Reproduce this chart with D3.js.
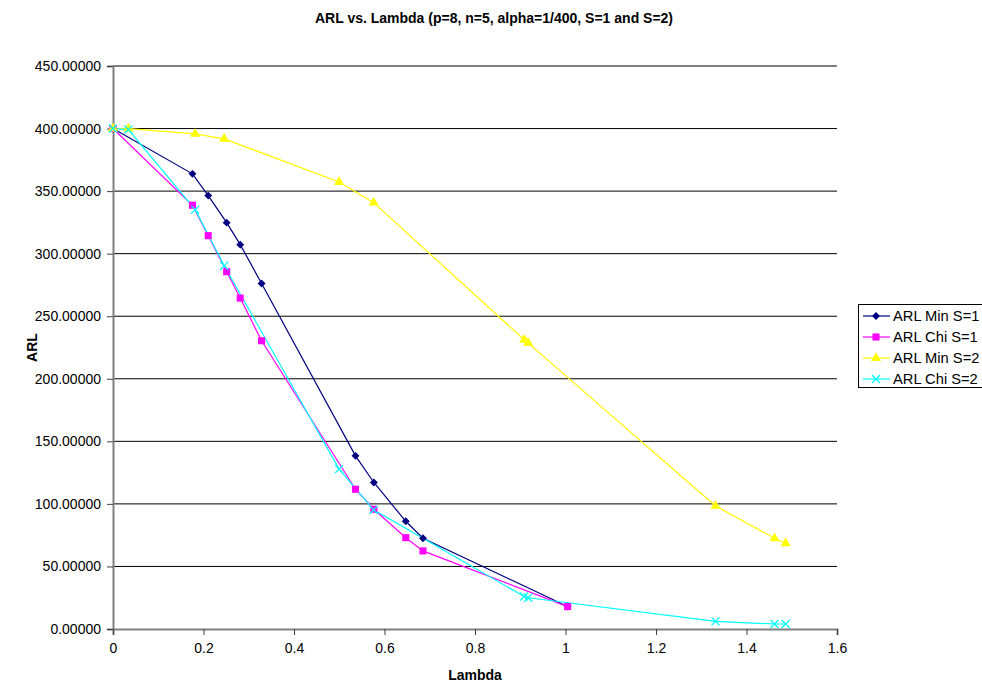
<!DOCTYPE html>
<html>
<head>
<meta charset="utf-8">
<script src="https://cdn.jsdelivr.net/npm/d3@7"></script>
<style>
  html, body { margin: 0; padding: 0; background: #fff; }
  svg { display: block; font-family: Arial, "Liberation Sans", sans-serif; }
</style>
</head>
<body>
<svg id="chart" width="982" height="684"></svg>
<script>
// Lambda values for the S=1 runs and the S=2 runs
const lambdaS1 = [0, 0.1756, 0.2104, 0.2512, 0.2812, 0.3284, 0.5359, 0.5765, 0.6470, 0.6850, 1.0046];
const lambdaS2 = [0, 0.0340, 0.1816, 0.2458, 0.4997, 0.5760, 0.9086, 0.9175, 1.3316, 1.4620, 1.4866];

// ARL for each statistic
const arlMinS1 = [400, 363.8, 346.4, 324.8, 307.2, 276.2, 138.4, 117.1, 86.1, 72.5, 18.0];
const arlChiS1 = [400, 338.7, 314.4, 285.6, 264.5, 230.4, 111.7, 95.7, 73.0, 62.4, 17.9];
const arlMinS2 = [400, 400.0, 395.8, 391.8, 357.3, 340.8, 231.2, 228.5, 98.4, 72.5, 68.5];
const arlChiS2 = [400, 399.2, 335.2, 290.4, 127.8, 95.2, 26.0, 25.0, 6.1, 4.0, 4.0];

const seriesNames = ["ARL Min S=1", "ARL Chi S=1", "ARL Min S=2", "ARL Chi S=2"];
const seriesColors = ["#000080", "#FF00FF", "#FFFF00", "#00FFFF"];
const seriesMarkers = ["diamond", "square", "triangle", "cross"];

const xTicks = [0, 0.2, 0.4, 0.6, 0.8, 1, 1.2, 1.4, 1.6];
const yTicks = [0, 50, 100, 150, 200, 250, 300, 350, 400, 450];

const series = [
  { xs: lambdaS1, ys: arlMinS1 },
  { xs: lambdaS1, ys: arlChiS1 },
  { xs: lambdaS2, ys: arlMinS2 },
  { xs: lambdaS2, ys: arlChiS2 }
].map((s, i) => ({
  name: seriesNames[i],
  color: seriesColors[i],
  marker: seriesMarkers[i],
  points: s.xs.map((x, j) => ({ x, y: s.ys[j] }))
}));

const svg = d3.select("#chart");
svg.append("rect").attr("width", 982).attr("height", 684).attr("fill", "#fff");

const plot = { left: 113, right: 837, top: 66, bottom: 629 };

const x = d3.scaleLinear().domain([0, 1.6]).range([plot.left, plot.right]);
const y = d3.scaleLinear().domain([0, 450]).range([plot.bottom, plot.top]);

// Horizontal gridlines
svg.append("g")
  .selectAll("line")
  .data(yTicks.filter(v => v > 0))
  .join("line")
  .attr("x1", plot.left).attr("x2", plot.right)
  .attr("y1", d => y(d)).attr("y2", d => y(d))
  .attr("stroke", "#000").attr("stroke-width", 1);

// Axes
const yAxis = d3.axisLeft(y).tickValues(yTicks).tickFormat(d3.format(".5f")).tickSize(6).tickPadding(6);
const xAxis = d3.axisBottom(x).tickValues(xTicks).tickFormat(d3.format("~g")).tickSize(6).tickPadding(8);

const gy = svg.append("g").attr("transform", `translate(${plot.left},0)`).call(yAxis);
const gx = svg.append("g").attr("transform", `translate(0,${plot.bottom})`).call(xAxis);

[gx, gy].forEach(g => {
  g.select(".domain").attr("stroke", "#808080").attr("stroke-width", 2);
  g.selectAll(".tick line").attr("stroke", "#404040").attr("stroke-width", 1);
  g.selectAll(".tick text")
    .attr("fill", "#000")
    .style("font-family", "Arial, 'Liberation Sans', sans-serif")
    .style("font-size", "14px");
});

// Series lines
const line = d3.line().x(d => x(d.x)).y(d => y(d.y));

const symbolFor = {
  diamond: d3.symbol().type(d3.symbolDiamond2).size(40),
  square: d3.symbol().type(d3.symbolSquare).size(50),
  triangle: d3.symbol().type(d3.symbolTriangle).size(44),
  cross: d3.symbol().type(d3.symbolX).size(44)
};

function drawMarker(sel, s) {
  const path = sel.append("path").attr("d", symbolFor[s.marker]());
  if (s.marker === "cross") {
    path.attr("fill", "none").attr("stroke", s.color).attr("stroke-width", 1.3);
  } else {
    path.attr("fill", s.color).attr("stroke", "none");
  }
}

const gSeries = svg.append("g");
series.forEach(s => {
  gSeries.append("path")
    .datum(s.points)
    .attr("d", line)
    .attr("fill", "none")
    .attr("stroke", s.color)
    .attr("stroke-width", 1.2);
});
series.forEach(s => {
  const g = gSeries.append("g");
  s.points.forEach(p => {
    const m = g.append("g").attr("transform", `translate(${x(p.x)},${y(p.y)})`);
    drawMarker(m, s);
  });
});

// Title and axis titles
svg.append("text")
  .attr("x", 494).attr("y", 23)
  .attr("text-anchor", "middle")
  .style("font-weight", "bold").style("font-size", "14px")
  .text("ARL vs. Lambda (p=8, n=5, alpha=1/400, S=1 and S=2)");

svg.append("text")
  .attr("x", (plot.left + plot.right) / 2).attr("y", 680)
  .attr("text-anchor", "middle")
  .style("font-weight", "bold").style("font-size", "14px")
  .text("Lambda");

svg.append("text")
  .attr("transform", `translate(37,${(plot.top + plot.bottom) / 2}) rotate(-90)`)
  .attr("text-anchor", "middle")
  .style("font-weight", "bold").style("font-size", "14px")
  .text("ARL");

// Legend
const legend = svg.append("g").attr("transform", "translate(858,304)");
legend.append("rect")
  .attr("x", 0.5).attr("y", 0.5)
  .attr("width", 140).attr("height", 83)
  .attr("fill", "#fff").attr("stroke", "#000").attr("stroke-width", 1);

series.forEach((s, i) => {
  const row = legend.append("g").attr("transform", `translate(0,${12 + i * 21})`);
  row.append("line")
    .attr("x1", 5).attr("x2", 32).attr("y1", 0).attr("y2", 0)
    .attr("stroke", s.color).attr("stroke-width", 1.2);
  const m = row.append("g").attr("transform", "translate(18,0)");
  drawMarker(m, s);
  row.append("text")
    .attr("x", 35).attr("y", 5)
    .style("font-size", "14.7px")
    .text(s.name);
});
</script>
</body>
</html>
